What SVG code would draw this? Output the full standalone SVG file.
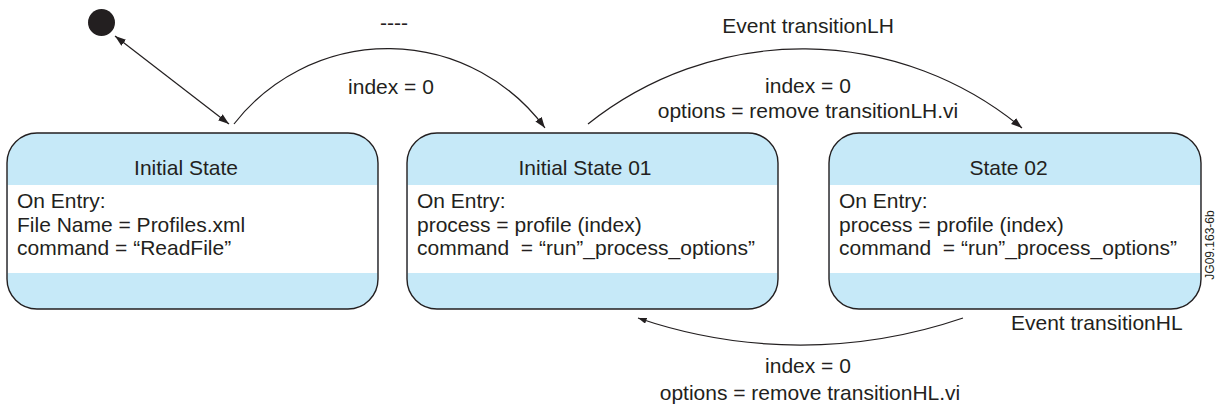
<svg xmlns="http://www.w3.org/2000/svg" width="1216" height="406" viewBox="0 0 1216 406">
  <style>
    text { font-family: "Liberation Sans", Arial, Helvetica, sans-serif; font-size: 21px; fill: #231f20; white-space: pre; }
    .title { text-anchor: middle; }
    .lbl { text-anchor: middle; }
    .blue { fill: #c6e9f8; }
    .white { fill: #ffffff; }
    .frame { fill: none; stroke: #231f20; stroke-width: 1.4; }
    .conn { fill: none; stroke: #231f20; stroke-width: 1.2; }
    .tag { font-size: 12px; text-anchor: middle; }
  </style>
  <defs>
    <marker id="arr" viewBox="0 0 10 7" refX="10" refY="3.5" markerWidth="11" markerHeight="8" markerUnits="userSpaceOnUse" orient="auto-start-reverse">
      <path d="M0,0 L10,3.5 L0,7 z" fill="#231f20"/>
    </marker>
    <marker id="arrs" viewBox="0 0 10 7" refX="10" refY="3.5" markerWidth="9" markerHeight="6" markerUnits="userSpaceOnUse" orient="auto">
      <path d="M0,0 L10,3.5 L0,7 z" fill="#231f20"/>
    </marker>
  </defs>

  <rect width="1216" height="406" fill="#ffffff"/>

  <g id="initial-dot">
    <circle cx="101.5" cy="22.5" r="13.5" fill="#231f20"/>
  </g>

  <g id="node-initial-state">
    <rect class="blue" x="7" y="133" width="371" height="176" rx="30" ry="30"/>
    <rect class="white" x="7.7" y="185" width="369.6" height="88"/>
    <rect class="frame" x="7" y="133" width="371" height="176" rx="30" ry="30"/>
    <text class="title" x="186" y="175">Initial State</text>
    <text x="17" y="208">On Entry:</text>
    <text x="17" y="231.5">File Name = Profiles.xml</text>
    <text x="17" y="255">command = “ReadFile”</text>
  </g>

  <g id="node-initial-state-01">
    <rect class="blue" x="407" y="133" width="371" height="176" rx="30" ry="30"/>
    <rect class="white" x="407.7" y="185" width="369.6" height="88"/>
    <rect class="frame" x="407" y="133" width="371" height="176" rx="30" ry="30"/>
    <text class="title" x="585" y="175">Initial State 01</text>
    <text x="417" y="208">On Entry:</text>
    <text x="417" y="231.5">process = profile (index)</text>
    <text x="417" y="255">command  = “run”_process_options”</text>
  </g>

  <g id="node-state-02">
    <rect class="blue" x="829" y="133" width="372" height="176" rx="30" ry="30"/>
    <rect class="white" x="829.7" y="185" width="370.6" height="88"/>
    <rect class="frame" x="829" y="133" width="372" height="176" rx="30" ry="30"/>
    <text class="title" x="1008.5" y="175">State 02</text>
    <text x="839" y="208">On Entry:</text>
    <text x="839" y="231.5">process = profile (index)</text>
    <text x="839" y="255">command  = “run”_process_options”</text>
  </g>

  <g id="connectors">
    <line class="conn" x1="115" y1="36" x2="229" y2="124" marker-start="url(#arr)" marker-end="url(#arr)"/>
    <path class="conn" d="M234,124 A195,195 0 0 1 545,128" marker-end="url(#arr)"/>
    <path class="conn" d="M588,124 A344,344 0 0 1 1022,128" marker-end="url(#arr)"/>
    <path class="conn" d="M963,318 A502,502 0 0 1 638,318" marker-end="url(#arrs)"/>
  </g>

  <g id="labels">
    <text class="lbl" x="394" y="30">----</text>
    <text class="lbl" x="391" y="94">index = 0</text>
    <text class="lbl" x="808" y="33">Event transitionLH</text>
    <text class="lbl" x="808" y="93">index = 0</text>
    <text class="lbl" x="808" y="118">options = remove transitionLH.vi</text>
    <text x="1011" y="330">Event transitionHL</text>
    <text class="lbl" x="808" y="373">index = 0</text>
    <text class="lbl" x="810" y="400">options = remove transitionHL.vi</text>
    <text class="tag" transform="translate(1214,245) rotate(-90)">JG09.163-6b</text>
  </g>
</svg>
